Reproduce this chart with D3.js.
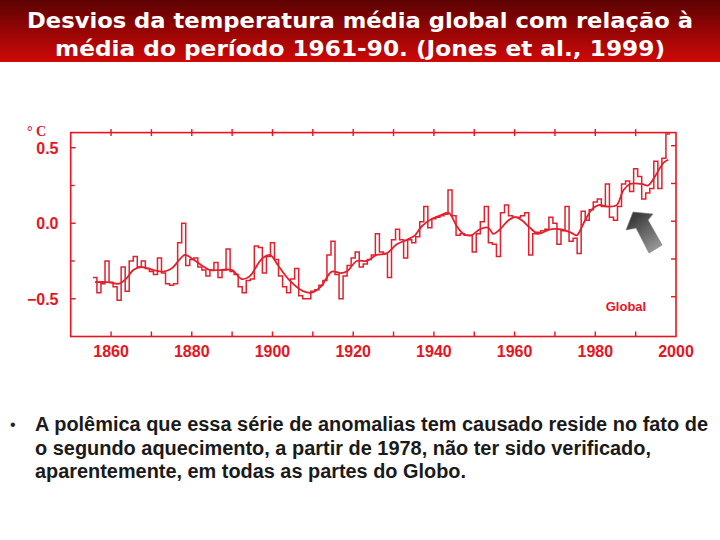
<!DOCTYPE html>
<html><head><meta charset="utf-8">
<script src="https://cdn.jsdelivr.net/npm/d3@7"></script>
<style>html,body{margin:0;padding:0;background:#fff;}svg{display:block;}</style>
</head><body>
<svg id="c" width="720" height="540"></svg>
<script>
// ---- data ----
const titleLines = ["Desvios da temperatura média global com relação à", "média do período 1961-90. (Jones et al., 1999)"];
const bulletLines = ["A polêmica que essa série de anomalias tem causado reside no fato de", "o segundo aquecimento, a partir de 1978, não ter sido verificado,", "aparentemente, em todas as partes do Globo."];
const firstYear = 1856;
const anomalies = [
 -0.36,-0.46,-0.40,-0.25,-0.39,-0.42,-0.51,-0.29,-0.45,-0.25, // 1856-1865
 -0.22,-0.29,-0.25,-0.30,-0.32,-0.34,-0.23,-0.33,-0.40,-0.41, // 1866-1875
 -0.40,-0.13, 0.00,-0.28,-0.24,-0.23,-0.29,-0.31,-0.35,-0.31, // 1876-1885
 -0.26,-0.36,-0.31,-0.17,-0.32,-0.34,-0.42,-0.46,-0.38,-0.37, // 1886-1895
 -0.15,-0.16,-0.33,-0.22,-0.13,-0.24,-0.35,-0.42,-0.46,-0.37, // 1896-1905
 -0.30,-0.48,-0.50,-0.50,-0.45,-0.44,-0.41,-0.38,-0.21,-0.12, // 1906-1915
 -0.34,-0.50,-0.35,-0.28,-0.23,-0.19,-0.29,-0.27,-0.24,-0.21, // 1916-1925
 -0.07,-0.19,-0.20,-0.36,-0.11,-0.04,-0.11,-0.23,-0.11,-0.13, // 1926-1935
 -0.09, 0.01, 0.11,-0.03, 0.03, 0.04, 0.05, 0.06, 0.22, 0.05, // 1936-1945
 -0.08,-0.07,-0.08,-0.08,-0.19,-0.07, 0.01, 0.11,-0.13,-0.14, // 1946-1955
 -0.22, 0.07, 0.12, 0.05, 0.04, 0.04, 0.05, 0.07,-0.21,-0.07, // 1956-1965
 -0.06,-0.05,-0.04, 0.04, 0.00,-0.14,-0.05, 0.11,-0.12,-0.10, // 1966-1975
 -0.20, 0.08, 0.02, 0.09, 0.14, 0.16, 0.11, 0.26, 0.04, 0.02, // 1976-1985
  0.11, 0.26, 0.28, 0.21, 0.36, 0.31, 0.16, 0.20, 0.23, 0.41, // 1986-1995
  0.23, 0.43, 0.59                                             // 1996-1998
];
const years = anomalies.map((_, i) => firstYear + i);
const smoothYears = [1856,1859,1862,1864,1865.5,1867.5,1870.5,1873,1875,1877,1878.3,1880.4,1882.5,1884.5,1887,1890,1892.4,1894.4,1896.4,1897.6,1899.4,1901.4,1904.3,1907.6,1909.7,1912,1914.7,1916.8,1918.4,1920.9,1923.4,1925.8,1928.3,1930.8,1933.3,1935.3,1937,1939.5,1941.5,1943.6,1945.7,1947.3,1949.3,1951.4,1953.5,1954.7,1956.4,1958.5,1960.2,1961.8,1963.8,1965.9,1968.8,1971.3,1973.8,1975.4,1977.1,1979.1,1980.8,1983.3,1985.3,1987,1988.7,1991.5,1993.1,1994.8,1996.9,1998.1];
const smoothValues = [-0.39,-0.39,-0.40,-0.36,-0.31,-0.29,-0.31,-0.32,-0.30,-0.24,-0.21,-0.24,-0.28,-0.31,-0.31,-0.31,-0.37,-0.35,-0.27,-0.23,-0.21,-0.28,-0.38,-0.45,-0.46,-0.42,-0.32,-0.33,-0.32,-0.25,-0.25,-0.21,-0.20,-0.14,-0.11,-0.08,-0.02,0.03,0.05,0.07,-0.02,-0.07,-0.08,-0.04,-0.03,-0.07,-0.04,0.02,0.04,0.02,-0.03,-0.07,-0.04,-0.04,-0.06,-0.08,0.00,0.09,0.12,0.11,0.12,0.22,0.26,0.26,0.25,0.31,0.40,0.42];
const yTickLabels = [0.5, 0.0, -0.5];
const xTickLabels = [1860, 1880, 1900, 1920, 1940, 1960, 1980, 2000];
const xTicks = [1860,1870,1880,1890,1900,1910,1920,1930,1940,1950,1960,1970,1980,1990];
const yTicks = [0.5, 0.25, 0.0, -0.25, -0.5];
const seriesLabel = "Global";
const unitLabel = "° C";

// ---- drawing ----
const svg = d3.select("#c");
const RED = "#e8141e";
const LINE = "#e3202c";

// title bar
const defs = svg.append("defs");
const tg = defs.append("linearGradient").attr("id","tg").attr("x1",0).attr("y1",0).attr("x2",0).attr("y2",1);
tg.append("stop").attr("offset","0%").attr("stop-color","#5c0202");
tg.append("stop").attr("offset","100%").attr("stop-color","#d00808");
svg.append("rect").attr("x",0).attr("y",0).attr("width",720).attr("height",62).attr("fill","url(#tg)");
const titleX = [27, 55], titleW = [666, 610], titleY = [27.5, 55.5];
titleLines.forEach((t, i) => {
  svg.append("text").attr("x", titleX[i]).attr("y", titleY[i])
    .attr("font-family","'DejaVu Sans', Verdana, sans-serif").attr("font-weight","bold")
    .attr("font-size","20.5px").attr("fill","#fff")
    .attr("textLength", titleW[i]).attr("lengthAdjust","spacingAndGlyphs").text(t);
});

// scales
const x = d3.scaleLinear().domain([1850, 2000]).range([70.7, 676]);
const y = d3.scaleLinear().domain([-0.75, 0.6]).range([336.5, 132.6]);

// frame
const g = svg.append("g");
g.append("rect").attr("x", x(1850)).attr("y", y(0.6)).attr("width", x(2000)-x(1850)).attr("height", y(-0.75)-y(0.6))
  .attr("fill","none").attr("stroke",RED).attr("stroke-width",1.6);
// ticks
xTicks.forEach(t => {
  g.append("line").attr("x1",x(t)).attr("x2",x(t)).attr("y1",y(-0.75)).attr("y2",y(-0.75)-5).attr("stroke",RED).attr("stroke-width",1.4);
  g.append("line").attr("x1",x(t)).attr("x2",x(t)).attr("y1",y(0.6)-3.5).attr("y2",y(0.6)+3.5).attr("stroke",RED).attr("stroke-width",1.4);
});
yTicks.forEach(t => {
  const major = yTickLabels.includes(t);
  g.append("line").attr("x1",x(1850)).attr("x2",x(1850)+(major?5:4)).attr("y1",y(t)).attr("y2",y(t)).attr("stroke",RED).attr("stroke-width",1.4);
  g.append("line").attr("x1",x(2000)).attr("x2",x(2000)-5).attr("y1",y(t)-2).attr("y2",y(t)-2).attr("stroke",RED).attr("stroke-width",1.4);
});
// tick labels
xTickLabels.forEach(t => {
  g.append("text").attr("x", x(t)).attr("y", 356.5).attr("text-anchor","middle")
    .attr("font-family","'Liberation Sans', Arial, sans-serif").attr("font-weight","bold")
    .attr("font-size","16px").attr("fill",RED).text(String(t));
});
yTickLabels.forEach(t => {
  g.append("text").attr("x", 58.5).attr("y", y(t)+5.8).attr("text-anchor","end")
    .attr("font-family","'Liberation Sans', Arial, sans-serif").attr("font-weight","bold")
    .attr("font-size","16px").attr("fill",RED).text(d3.format(".1f")(t));
});
g.append("text").attr("x", 27).attr("y", 136).attr("font-family","'Liberation Serif', 'Times New Roman', serif")
  .attr("font-size","14px").attr("fill","#d0202a").attr("font-weight","bold").text(unitLabel);
g.append("text").attr("x", x(1987.6)).attr("y", 311).attr("text-anchor","middle")
  .attr("font-family","'Liberation Sans', Arial, sans-serif").attr("font-weight","bold")
  .attr("font-size","13px").attr("fill",RED).text(seriesLabel);

// annual step series
const stepPts = years.map((yr, i) => [yr - 0.5, anomalies[i]]);
stepPts.push([years[years.length-1] + 0.5, anomalies[anomalies.length-1]]);
g.append("path").datum(stepPts)
  .attr("d", d3.line().x(d => x(d[0])).y(d => y(d[1])).curve(d3.curveStepAfter))
  .attr("fill","none").attr("stroke",LINE).attr("stroke-width",1.5);

// smoothed curve
const smPts = smoothYears.map((yr, i) => [yr, smoothValues[i]]);
g.append("path").datum(smPts)
  .attr("d", d3.line().x(d => x(d[0])).y(d => y(d[1])).curve(d3.curveCatmullRom.alpha(0.5)))
  .attr("fill","none").attr("stroke",LINE).attr("stroke-width",1.8);

// arrow annotation
const tipX = x(1989.35), tipY = y(0.074);
const ag = defs.append("linearGradient").attr("id","ag").attr("gradientUnits","userSpaceOnUse")
  .attr("x1", tipX).attr("y1", tipY+6).attr("x2", tipX+24).attr("y2", tipY+38);
ag.append("stop").attr("offset","0%").attr("stop-color","#3c3c3c");
ag.append("stop").attr("offset","100%").attr("stop-color","#9a9a9a");
const arrowShape = [[0,0],[20,2],[15,8],[29,33],[16,41],[3,16],[-7,18]];
g.append("path").attr("d", d3.line()(arrowShape.map(p => [tipX+p[0], tipY+p[1]])) + "Z")
  .attr("fill","url(#ag)").attr("stroke","#777").attr("stroke-width",0.6);

// bullet text
svg.append("text").attr("x", 10).attr("y", 430).attr("font-family","'Liberation Sans', Arial, sans-serif")
  .attr("font-size","16px").attr("fill","#222").text("•");
const bW = [673, 616, 431], bY = [431, 455, 478];
bulletLines.forEach((t, i) => {
  svg.append("text").attr("x", 35).attr("y", bY[i])
    .attr("font-family","'Liberation Sans', Arial, sans-serif").attr("font-weight","bold")
    .attr("font-size","19.5px").attr("fill","#1a1a1a")
    .attr("textLength", bW[i]).attr("lengthAdjust","spacingAndGlyphs").text(t);
});
</script>
</body></html>
